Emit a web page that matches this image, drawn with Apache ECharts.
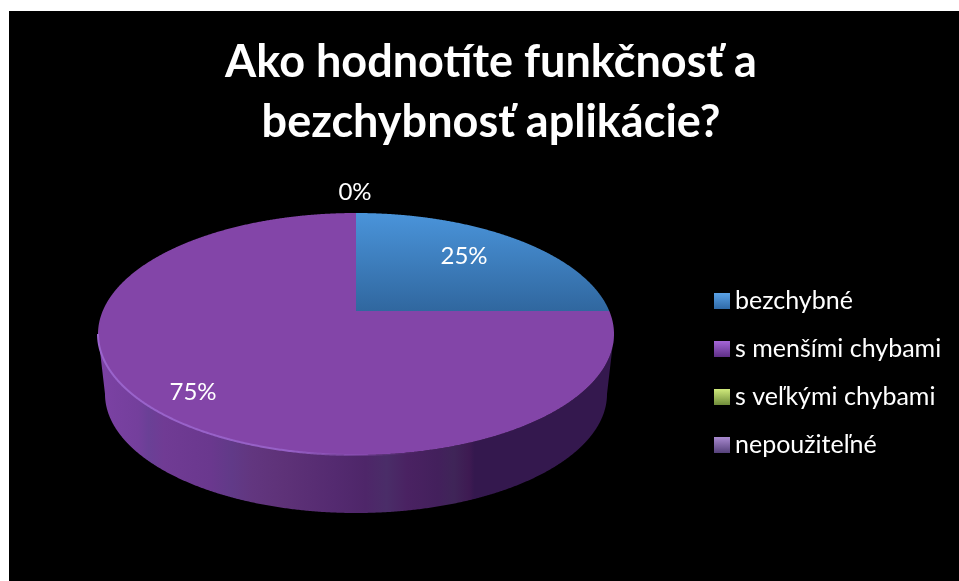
<!DOCTYPE html>
<html>
<head>
<meta charset="utf-8">
<title>Ako hodnotíte funkčnosť a bezchybnosť aplikácie?</title>
<style>
    html, body { margin: 0; padding: 0; background: #fff; }
    #main { width: 959px; height: 581px; }
</style>
<script src="https://cdn.jsdelivr.net/npm/echarts@6/dist/echarts.min.js"></script>
</head>
<body>
<div id="main"></div>
<script>
var titleText = 'Ako hodnotíte funkčnosť a\nbezchybnosť aplikácie?';
var categories = ['bezchybné', 's menšími chybami', 's veľkými chybami', 'nepoužiteľné'];
var values = [25, 75, 0, 0];
var percentLabels = ['25%', '75%', '0%', ''];

//tvar koláča
var apex = [356, 311];
var topFace = {cx: 356, cy: 334, rx: 258, ry: 121};
var bottomFace = {cx: 356, cy: 394, rx: 251, ry: 119};
var labelPos = [[464, 256], [193, 392], [355, 192], [355, 192]];

function vertical(y1, y2, c1, c2) {
    return {
        type: 'linear', global: true, x: 0, y: y1, x2: 0, y2: y2,
        colorStops: [{offset: 0, color: c1}, {offset: 1, color: c2}]
    };
}
function horizontal(x1, x2, stops) {
    return {type: 'linear', global: true, x: x1, y: 0, x2: x2, y2: 0, colorStops: stops};
}

var faceColors = [
    vertical(213, 311, '#4a94da', '#30679f'),
    '#8345a8',
    '#9bbb59',
    '#8064a2'
];
var wallColor = horizontal(97, 614, [
    {offset: 0, color: '#7c42a4'},
    {offset: 0.08, color: '#743f9c'},
    {offset: 0.10, color: '#6a4096'},
    {offset: 0.13, color: '#703b94'},
    {offset: 0.22, color: '#6a388e'},
    {offset: 0.26, color: '#613a88'},
    {offset: 0.30, color: '#62367f'},
    {offset: 0.36, color: '#5e3278'},
    {offset: 0.46, color: '#542a70'},
    {offset: 0.52, color: '#4e2669'},
    {offset: 0.56, color: '#4a2d68'},
    {offset: 0.60, color: '#4a2262'},
    {offset: 0.66, color: '#43205c'},
    {offset: 0.69, color: '#3f2558'},
    {offset: 0.72, color: '#3e1a52'},
    {offset: 0.73, color: '#34184e'},
    {offset: 1, color: '#34184e'}
]);
var rimColor = horizontal(97, 420, [
    {offset: 0, color: '#9a64cc'},
    {offset: 0.6, color: '#9660c6'},
    {offset: 1, color: 'rgba(131,69,168,0)'}
]);
var legendColors = [
    vertical(0, 1, '#5aa2e6', '#2f6aa8'),
    vertical(0, 1, '#a566d8', '#5e2f86'),
    vertical(0, 1, '#d0ea7c', '#6f8c3a'),
    vertical(0, 1, '#a98ad0', '#55417a')
];
for (var c = 0; c < legendColors.length; c++) {
    legendColors[c].global = false;
}

//从顶点沿角度方向打到椭圆上
function rimPoint(angle) {
    var e = topFace;
    var dx = e.rx * Math.sin(angle), dy = -e.ry * Math.cos(angle);
    var ox = (apex[0] - e.cx) / e.rx, oy = (apex[1] - e.cy) / e.ry;
    var ux = dx / e.rx, uy = dy / e.ry;
    var a = ux * ux + uy * uy;
    var b = 2 * (ox * ux + oy * uy);
    var k = ox * ox + oy * oy - 1;
    var s = (-b + Math.sqrt(b * b - 4 * a * k)) / (2 * a);
    return [apex[0] + s * dx, apex[1] + s * dy];
}

function renderSlice(index) {
    return function () {
        var total = 0, before = 0, i;
        for (i = 0; i < values.length; i++) {
            total += values[i];
            if (i < index) before += values[i];
        }
        var children = [];
        if (values[index] > 0) {
            var start = before / total * Math.PI * 2;
            var sweep = values[index] / total * Math.PI * 2;
            var steps = Math.ceil(values[index] * 12);
            var face = [apex.slice()], wallTop = [], wallBottom = [];
            for (i = 0; i <= steps; i++) {
                var p = rimPoint(start + sweep * i / steps);
                face.push(p);
                var t = Math.atan2((p[1] - topFace.cy) / topFace.ry, (p[0] - topFace.cx) / topFace.rx);
                if (Math.sin(t) >= 0) {
                    wallTop.push(p);
                    wallBottom.unshift([
                        bottomFace.cx + bottomFace.rx * Math.cos(t),
                        bottomFace.cy + bottomFace.ry * Math.sin(t)
                    ]);
                }
            }
            if (wallTop.length > 1) {
                children.push({
                    type: 'polygon',
                    shape: {points: wallTop.concat(wallBottom)},
                    style: {fill: wallColor}
                });
            }
            children.push({
                type: 'polygon',
                shape: {points: face},
                style: {fill: faceColors[index]}
            });
            if (wallTop.length > 1) {
                children.push({
                    type: 'polyline',
                    shape: {points: wallTop},
                    style: {fill: 'none', stroke: rimColor, lineWidth: 2}
                });
            }
        }
        if (percentLabels[index]) {
            children.push({
                type: 'text',
                z2: 10,
                style: {
                    text: percentLabels[index],
                    x: labelPos[index][0],
                    y: labelPos[index][1],
                    align: 'center',
                    verticalAlign: 'middle',
                    fill: '#fff',
                    font: '24px Lato'
                }
            });
        }
        return {type: 'group', children: children};
    };
}

var chart = echarts.init(document.getElementById('main'));
var series = [], legendData = [];
for (var n = 0; n < categories.length; n++) {
    series.push({
        type: 'custom',
        name: categories[n],
        coordinateSystem: 'none',
        silent: true,
        animation: false,
        renderItem: renderSlice(n),
        data: [values[n]]
    });
    legendData.push({name: categories[n], icon: 'rect', itemStyle: {color: legendColors[n]}});
}

var option = {
    backgroundColor: '#fff',
    animation: false,
    graphic: [{
        type: 'rect',
        z: -10,
        shape: {x: 9, y: 11, width: 950, height: 570},
        style: {fill: '#000'}
    }],
    title: {
        text: titleText,
        left: 486,
        top: 27,
        textAlign: 'center',
        textStyle: {
            color: '#fff',
            fontFamily: 'Lato',
            fontWeight: 'bold',
            fontSize: 45,
            lineHeight: 60
        }
    },
    legend: {
        orient: 'vertical',
        left: 709,
        top: 280,
        itemWidth: 16,
        itemHeight: 16,
        itemGap: 16,
        itemStyle: {borderWidth: 0},
        selectedMode: false,
        textStyle: {
            color: '#fff',
            fontFamily: 'Lato',
            fontSize: 25,
            lineHeight: 32
        },
        data: legendData
    },
    series: series
};
chart.setOption(option);
</script>
</body>
</html>
